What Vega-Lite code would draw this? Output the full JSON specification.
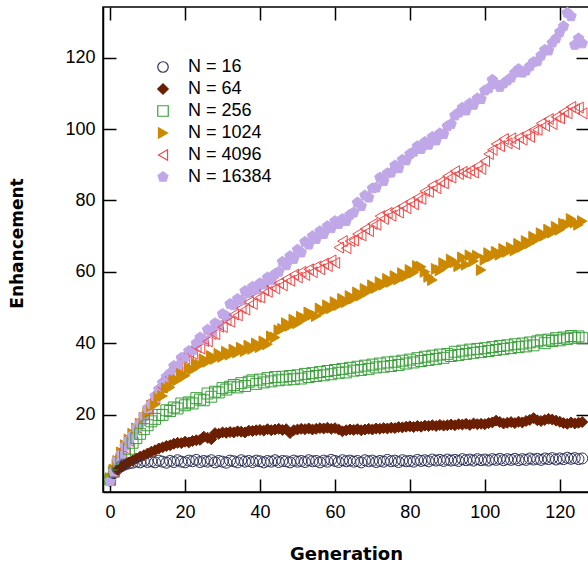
{
  "$schema": "https://vega.github.io/schema/vega-lite/v6.json",
  "width": 486,
  "height": 485,
  "autosize": "none",
  "padding": {"left": 103, "top": 7, "right": 0, "bottom": 71},
  "background": "white",
  "config": {
    "view": {"stroke": "black", "strokeWidth": 1.5},
    "font": "Liberation Sans",
    "axis": {"grid": false, "domainColor": "black", "domainWidth": 1.5, "tickColor": "black", "tickWidth": 1.5, "tickSize": -13, "labelColor": "black", "labelFontSize": 18, "labelFont": "Liberation Sans"}
  },
  "data": {"values": [
    {"g":0,"N16":1.5,"N64":2.5,"N256":1.8,"N1024":2.2,"N4096":1.6,"N16384":1.4},
    {"g":1,"N16":3.6,"N64":3.6,"N256":4.0,"N1024":4.6,"N4096":4.2,"N16384":4.0},
    {"g":2,"N16":4.8,"N64":4.6,"N256":6.0,"N1024":7.0,"N4096":6.6,"N16384":7.2},
    {"g":3,"N16":5.5,"N64":5.3,"N256":7.6,"N1024":9.4,"N4096":8.6,"N16384":9.0},
    {"g":4,"N16":6.0,"N64":6.0,"N256":9.0,"N1024":11.4,"N4096":10.5,"N16384":11.2},
    {"g":5,"N16":6.3,"N64":6.6,"N256":10.4,"N1024":13.0,"N4096":12.6,"N16384":12.8},
    {"g":6,"N16":6.5,"N64":7.1,"N256":12.1,"N1024":14.6,"N4096":14.4,"N16384":14.2},
    {"g":7,"N16":6.8,"N64":7.7,"N256":13.4,"N1024":16.1,"N4096":16.5,"N16384":16.3},
    {"g":8,"N16":6.6,"N64":8.2,"N256":14.6,"N1024":17.4,"N4096":18.4,"N16384":17.6},
    {"g":9,"N16":7.0,"N64":8.6,"N256":15.9,"N1024":19.1,"N4096":20.1,"N16384":19.6},
    {"g":10,"N16":6.7,"N64":9.1,"N256":17.0,"N1024":20.4,"N4096":21.6,"N16384":21.8},
    {"g":11,"N16":6.9,"N64":9.6,"N256":18.1,"N1024":22.4,"N4096":23.8,"N16384":23.0},
    {"g":12,"N16":6.6,"N64":10.0,"N256":18.8,"N1024":22.8,"N4096":24.5,"N16384":25.2},
    {"g":13,"N16":7.1,"N64":10.5,"N256":19.9,"N1024":24.9,"N4096":27.1,"N16384":27.1},
    {"g":14,"N16":6.8,"N64":10.8,"N256":19.9,"N1024":25.2,"N4096":27.6,"N16384":28.9},
    {"g":15,"N16":6.5,"N64":11.2,"N256":21.2,"N1024":27.3,"N4096":30.1,"N16384":30.6},
    {"g":16,"N16":7.0,"N64":11.4,"N256":21.0,"N1024":27.6,"N4096":30.6,"N16384":31.6},
    {"g":17,"N16":6.7,"N64":11.8,"N256":22.0,"N1024":29.6,"N4096":33.2,"N16384":33.6},
    {"g":18,"N16":7.2,"N64":12.1,"N256":21.7,"N1024":29.6,"N4096":33.4,"N16384":33.6},
    {"g":19,"N16":6.8,"N64":12.0,"N256":23.1,"N1024":31.4,"N4096":35.8,"N16384":35.9},
    {"g":20,"N16":6.6,"N64":12.4,"N256":22.6,"N1024":30.9,"N4096":35.6,"N16384":36.2},
    {"g":21,"N16":7.1,"N64":12.2,"N256":23.4,"N1024":32.9,"N4096":37.2,"N16384":37.8},
    {"g":22,"N16":6.9,"N64":12.6,"N256":23.1,"N1024":32.6,"N4096":37.0,"N16384":38.0},
    {"g":23,"N16":7.3,"N64":12.8,"N256":24.6,"N1024":34.2,"N4096":38.9,"N16384":40.0},
    {"g":24,"N16":6.7,"N64":12.9,"N256":24.2,"N1024":33.9,"N4096":38.5,"N16384":41.6},
    {"g":25,"N16":7.0,"N64":13.8,"N256":24.0,"N1024":35.5,"N4096":40.6,"N16384":41.0},
    {"g":26,"N16":6.8,"N64":13.5,"N256":25.9,"N1024":34.8,"N4096":40.5,"N16384":43.8},
    {"g":27,"N16":7.2,"N64":13.1,"N256":25.0,"N1024":36.4,"N4096":42.6,"N16384":43.2},
    {"g":28,"N16":6.6,"N64":14.8,"N256":26.4,"N1024":35.6,"N4096":42.5,"N16384":45.6},
    {"g":29,"N16":7.0,"N64":14.6,"N256":26.2,"N1024":37.0,"N4096":44.6,"N16384":45.0},
    {"g":30,"N16":6.8,"N64":15.0,"N256":27.4,"N1024":36.2,"N4096":44.5,"N16384":48.2},
    {"g":31,"N16":6.5,"N64":14.9,"N256":27.0,"N1024":37.6,"N4096":46.4,"N16384":47.6},
    {"g":32,"N16":7.1,"N64":15.1,"N256":27.8,"N1024":36.8,"N4096":46.0,"N16384":51.0},
    {"g":33,"N16":6.9,"N64":15.0,"N256":28.3,"N1024":38.2,"N4096":48.0,"N16384":50.6},
    {"g":34,"N16":6.6,"N64":15.3,"N256":27.6,"N1024":37.4,"N4096":47.8,"N16384":52.4},
    {"g":35,"N16":7.2,"N64":15.2,"N256":28.8,"N1024":38.7,"N4096":49.8,"N16384":52.0},
    {"g":36,"N16":6.8,"N64":15.0,"N256":28.0,"N1024":37.8,"N4096":49.4,"N16384":54.6},
    {"g":37,"N16":7.0,"N64":15.5,"N256":29.2,"N1024":39.3,"N4096":51.5,"N16384":54.0},
    {"g":38,"N16":6.7,"N64":15.4,"N256":29.6,"N1024":38.4,"N4096":51.0,"N16384":55.8},
    {"g":39,"N16":7.1,"N64":15.6,"N256":28.6,"N1024":39.9,"N4096":53.0,"N16384":55.0},
    {"g":40,"N16":6.9,"N64":15.7,"N256":29.8,"N1024":38.9,"N4096":52.8,"N16384":56.8},
    {"g":41,"N16":6.6,"N64":15.5,"N256":29.0,"N1024":40.5,"N4096":54.8,"N16384":56.4},
    {"g":42,"N16":7.0,"N64":15.9,"N256":30.2,"N1024":39.7,"N4096":54.4,"N16384":58.4},
    {"g":43,"N16":6.8,"N64":15.6,"N256":29.3,"N1024":41.9,"N4096":56.0,"N16384":57.6},
    {"g":44,"N16":7.2,"N64":15.8,"N256":30.5,"N1024":41.6,"N4096":55.3,"N16384":59.4},
    {"g":45,"N16":6.7,"N64":16.0,"N256":29.6,"N1024":43.6,"N4096":56.8,"N16384":60.0},
    {"g":46,"N16":7.0,"N64":15.7,"N256":30.6,"N1024":44.0,"N4096":56.2,"N16384":62.8},
    {"g":47,"N16":6.9,"N64":15.9,"N256":29.8,"N1024":45.6,"N4096":58.0,"N16384":61.8},
    {"g":48,"N16":6.6,"N64":14.8,"N256":30.8,"N1024":44.9,"N4096":57.5,"N16384":64.4},
    {"g":49,"N16":7.1,"N64":15.6,"N256":29.9,"N1024":46.6,"N4096":59.2,"N16384":63.6},
    {"g":50,"N16":6.8,"N64":15.8,"N256":31.0,"N1024":45.6,"N4096":58.4,"N16384":66.2},
    {"g":51,"N16":7.0,"N64":16.0,"N256":30.1,"N1024":47.4,"N4096":60.0,"N16384":65.4},
    {"g":52,"N16":6.7,"N64":15.9,"N256":31.4,"N1024":46.9,"N4096":59.1,"N16384":68.4},
    {"g":53,"N16":7.2,"N64":16.1,"N256":30.5,"N1024":48.6,"N4096":60.7,"N16384":67.6},
    {"g":54,"N16":6.9,"N64":15.8,"N256":31.6,"N1024":48.0,"N4096":59.9,"N16384":70.0},
    {"g":55,"N16":7.0,"N64":16.0,"N256":30.8,"N1024":47.6,"N4096":61.5,"N16384":69.2},
    {"g":56,"N16":6.6,"N64":16.2,"N256":31.9,"N1024":49.7,"N4096":60.7,"N16384":71.4},
    {"g":57,"N16":7.1,"N64":16.1,"N256":31.0,"N1024":49.0,"N4096":62.3,"N16384":70.6},
    {"g":58,"N16":6.8,"N64":16.3,"N256":32.2,"N1024":50.6,"N4096":61.6,"N16384":72.8},
    {"g":59,"N16":7.3,"N64":16.0,"N256":31.3,"N1024":49.8,"N4096":63.2,"N16384":72.2},
    {"g":60,"N16":7.0,"N64":16.2,"N256":32.5,"N1024":51.5,"N4096":62.5,"N16384":74.2},
    {"g":61,"N16":6.7,"N64":15.8,"N256":31.7,"N1024":50.7,"N4096":66.8,"N16384":73.4},
    {"g":62,"N16":7.2,"N64":15.3,"N256":32.8,"N1024":52.4,"N4096":68.6,"N16384":74.8},
    {"g":63,"N16":6.9,"N64":15.6,"N256":31.8,"N1024":51.5,"N4096":66.6,"N16384":74.2},
    {"g":64,"N16":7.1,"N64":15.8,"N256":33.1,"N1024":53.2,"N4096":68.6,"N16384":76.0},
    {"g":65,"N16":6.8,"N64":15.7,"N256":32.3,"N1024":52.5,"N4096":68.8,"N16384":76.6},
    {"g":66,"N16":7.0,"N64":15.9,"N256":33.4,"N1024":54.2,"N4096":70.6,"N16384":79.4},
    {"g":67,"N16":6.6,"N64":15.6,"N256":32.5,"N1024":53.4,"N4096":70.2,"N16384":78.4},
    {"g":68,"N16":7.2,"N64":15.8,"N256":33.7,"N1024":55.2,"N4096":72.0,"N16384":81.4},
    {"g":69,"N16":6.9,"N64":16.0,"N256":32.8,"N1024":54.6,"N4096":71.4,"N16384":80.8},
    {"g":70,"N16":7.1,"N64":15.8,"N256":34.0,"N1024":56.2,"N4096":73.4,"N16384":83.4},
    {"g":71,"N16":6.7,"N64":16.1,"N256":33.2,"N1024":55.5,"N4096":73.2,"N16384":83.6},
    {"g":72,"N16":7.0,"N64":16.0,"N256":34.3,"N1024":57.1,"N4096":75.6,"N16384":86.4},
    {"g":73,"N16":6.8,"N64":16.2,"N256":33.4,"N1024":56.4,"N4096":74.8,"N16384":85.4},
    {"g":74,"N16":7.3,"N64":16.1,"N256":34.6,"N1024":58.0,"N4096":76.5,"N16384":87.6},
    {"g":75,"N16":6.9,"N64":16.3,"N256":33.6,"N1024":57.2,"N4096":75.7,"N16384":87.8},
    {"g":76,"N16":7.1,"N64":16.2,"N256":34.8,"N1024":58.8,"N4096":77.2,"N16384":89.8},
    {"g":77,"N16":6.7,"N64":16.5,"N256":33.9,"N1024":57.9,"N4096":76.6,"N16384":89.0},
    {"g":78,"N16":7.2,"N64":16.4,"N256":35.1,"N1024":59.6,"N4096":78.4,"N16384":91.4},
    {"g":79,"N16":6.9,"N64":16.6,"N256":34.3,"N1024":58.8,"N4096":77.8,"N16384":91.2},
    {"g":80,"N16":7.0,"N64":16.7,"N256":35.4,"N1024":60.5,"N4096":79.6,"N16384":93.0},
    {"g":81,"N16":6.8,"N64":16.5,"N256":34.6,"N1024":59.8,"N4096":78.9,"N16384":93.6},
    {"g":82,"N16":7.3,"N64":16.8,"N256":35.8,"N1024":61.6,"N4096":80.8,"N16384":95.2},
    {"g":83,"N16":7.0,"N64":16.6,"N256":35.0,"N1024":61.4,"N4096":80.4,"N16384":94.4},
    {"g":84,"N16":7.2,"N64":16.9,"N256":36.2,"N1024":60.0,"N4096":82.6,"N16384":96.4},
    {"g":85,"N16":6.9,"N64":16.8,"N256":35.3,"N1024":58.6,"N4096":82.4,"N16384":95.6},
    {"g":86,"N16":7.4,"N64":17.0,"N256":36.5,"N1024":57.7,"N4096":84.2,"N16384":97.8},
    {"g":87,"N16":7.1,"N64":16.8,"N256":35.6,"N1024":60.8,"N4096":83.4,"N16384":96.8},
    {"g":88,"N16":7.3,"N64":17.1,"N256":36.8,"N1024":60.4,"N4096":85.2,"N16384":98.8},
    {"g":89,"N16":7.0,"N64":16.9,"N256":35.9,"N1024":62.4,"N4096":84.8,"N16384":98.6},
    {"g":90,"N16":7.4,"N64":17.0,"N256":37.0,"N1024":61.8,"N4096":86.8,"N16384":100.8},
    {"g":91,"N16":7.1,"N64":17.2,"N256":36.4,"N1024":63.4,"N4096":86.4,"N16384":101.4},
    {"g":92,"N16":7.3,"N64":17.0,"N256":37.6,"N1024":62.7,"N4096":88.2,"N16384":103.8},
    {"g":93,"N16":7.0,"N64":17.3,"N256":36.7,"N1024":61.6,"N4096":87.4,"N16384":104.6},
    {"g":94,"N16":7.5,"N64":17.2,"N256":37.9,"N1024":64.0,"N4096":88.0,"N16384":106.0},
    {"g":95,"N16":7.2,"N64":17.4,"N256":37.0,"N1024":62.0,"N4096":87.6,"N16384":105.2},
    {"g":96,"N16":7.4,"N64":17.1,"N256":38.2,"N1024":64.6,"N4096":88.4,"N16384":107.2},
    {"g":97,"N16":7.1,"N64":17.5,"N256":37.3,"N1024":63.0,"N4096":87.8,"N16384":106.8},
    {"g":98,"N16":7.5,"N64":17.3,"N256":38.4,"N1024":64.5,"N4096":89.6,"N16384":108.6},
    {"g":99,"N16":7.2,"N64":17.4,"N256":37.5,"N1024":60.5,"N4096":88.8,"N16384":108.4},
    {"g":100,"N16":7.4,"N64":17.3,"N256":38.6,"N1024":63.4,"N4096":91.0,"N16384":110.8},
    {"g":101,"N16":7.1,"N64":17.6,"N256":37.8,"N1024":65.2,"N4096":93.0,"N16384":111.4},
    {"g":102,"N16":7.5,"N64":17.8,"N256":38.9,"N1024":64.4,"N4096":94.2,"N16384":113.8},
    {"g":103,"N16":7.3,"N64":18.3,"N256":38.1,"N1024":65.6,"N4096":95.8,"N16384":112.6},
    {"g":104,"N16":7.6,"N64":17.9,"N256":39.2,"N1024":64.8,"N4096":95.2,"N16384":111.8},
    {"g":105,"N16":7.2,"N64":17.5,"N256":38.4,"N1024":66.4,"N4096":97.2,"N16384":112.8},
    {"g":106,"N16":7.5,"N64":17.7,"N256":39.4,"N1024":65.6,"N4096":96.0,"N16384":113.6},
    {"g":107,"N16":7.3,"N64":17.9,"N256":38.6,"N1024":66.8,"N4096":97.4,"N16384":114.4},
    {"g":108,"N16":7.6,"N64":17.6,"N256":39.7,"N1024":66.0,"N4096":95.8,"N16384":115.8},
    {"g":109,"N16":7.2,"N64":18.0,"N256":38.9,"N1024":67.8,"N4096":97.6,"N16384":116.8},
    {"g":110,"N16":7.5,"N64":17.8,"N256":39.9,"N1024":67.0,"N4096":97.0,"N16384":115.8},
    {"g":111,"N16":7.3,"N64":18.2,"N256":39.1,"N1024":68.6,"N4096":98.6,"N16384":116.4},
    {"g":112,"N16":7.7,"N64":18.5,"N256":40.2,"N1024":68.0,"N4096":97.8,"N16384":117.6},
    {"g":113,"N16":7.4,"N64":19.0,"N256":39.4,"N1024":69.8,"N4096":99.8,"N16384":118.8},
    {"g":114,"N16":7.6,"N64":18.4,"N256":40.5,"N1024":69.2,"N4096":99.8,"N16384":119.0},
    {"g":115,"N16":7.3,"N64":18.2,"N256":40.8,"N1024":70.8,"N4096":101.6,"N16384":120.6},
    {"g":116,"N16":7.7,"N64":18.5,"N256":40.0,"N1024":70.2,"N4096":100.9,"N16384":122.2},
    {"g":117,"N16":7.5,"N64":18.8,"N256":41.0,"N1024":71.8,"N4096":102.8,"N16384":122.0},
    {"g":118,"N16":7.8,"N64":18.6,"N256":40.6,"N1024":71.0,"N4096":101.4,"N16384":124.2},
    {"g":119,"N16":7.4,"N64":18.3,"N256":41.4,"N1024":72.6,"N4096":103.4,"N16384":125.4},
    {"g":120,"N16":7.7,"N64":18.0,"N256":40.8,"N1024":71.8,"N4096":103.0,"N16384":127.2},
    {"g":121,"N16":7.5,"N64":17.6,"N256":41.6,"N1024":73.5,"N4096":104.8,"N16384":128.8},
    {"g":122,"N16":7.9,"N64":17.4,"N256":41.2,"N1024":73.2,"N4096":104.4,"N16384":132.6},
    {"g":123,"N16":7.6,"N64":17.8,"N256":42.0,"N1024":74.8,"N4096":106.2,"N16384":131.6},
    {"g":124,"N16":7.8,"N64":17.5,"N256":41.5,"N1024":73.8,"N4096":105.6,"N16384":123.6},
    {"g":125,"N16":7.5,"N64":17.7,"N256":41.9,"N1024":73.2,"N4096":106.0,"N16384":125.4},
    {"g":126,"N16":7.7,"N64":17.9,"N256":41.4,"N1024":74.2,"N4096":104.4,"N16384":124.0}
  ]},
  "transform": [
    {"fold": ["N16", "N64", "N256", "N1024", "N4096", "N16384"], "as": ["series", "e"]}
  ],
  "layer": [
    {
      "mark": {"type": "point", "opacity": 1, "strokeWidth": 1, "size": 120},
      "encoding": {
        "x": {"field": "g", "type": "quantitative",
              "scale": {"domain": [-1.9, 127.8], "nice": false, "zero": false},
              "axis": {"orient": "bottom", "values": [0, 20, 40, 60, 80, 100, 120], "labelPadding": 24, "title": "Generation", "titleFont": "DejaVu Sans", "titleFontWeight": "bold", "titleFontSize": 18, "titleColor": "black", "titleX": 243, "titleY": 67, "titleBaseline": "alphabetic"}},
        "y": {"field": "e", "type": "quantitative",
              "scale": {"domain": [-1.7, 134.2], "nice": false, "zero": false},
              "axis": {"orient": "left", "values": [20, 40, 60, 80, 100, 120], "labelPadding": 21, "title": "Enhancement", "titleFont": "DejaVu Sans", "titleFontWeight": "bold", "titleFontSize": 17, "titleColor": "black", "titleX": -81, "titleY": 236, "titleAngle": -90, "titleBaseline": "alphabetic"}},
        "shape": {"field": "series", "type": "nominal",
                  "scale": {"domain": ["N16", "N64", "N256", "N1024", "N4096", "N16384"],
                            "range": ["circle", "diamond", "square", "triangle-right", "triangle-left", "M0,-1L0.951,-0.309L0.588,0.809L-0.588,0.809L-0.951,-0.309Z"]},
                  "legend": {"orient": "none", "legendX": 51, "legendY": 51, "title": null, "labelFontSize": 18, "labelFont": "Liberation Sans", "labelColor": "black", "symbolSize": 110, "symbolStrokeWidth": 1.2, "rowPadding": 4, "labelOffset": 16, "padding": 0, "labelExpr": "'N = ' + slice(datum.label, 1)"}},
        "fill": {"field": "series", "type": "nominal",
                 "scale": {"domain": ["N16", "N64", "N256", "N1024", "N4096", "N16384"],
                           "range": ["transparent", "#6b1e00", "transparent", "#cc8800", "transparent", "#c0a8e8"]}},
        "stroke": {"field": "series", "type": "nominal",
                   "scale": {"domain": ["N16", "N64", "N256", "N1024", "N4096", "N16384"],
                             "range": ["#2e3258", "#6b1e00", "#3ca03c", "#cc8800", "#f04848", "#c0a8e8"]}}
      }
    },
    {
      "mark": {"type": "point", "opacity": 0},
      "encoding": {
        "x": {"field": "g", "type": "quantitative",
              "scale": {"domain": [-1.9, 127.8], "nice": false, "zero": false},
              "axis": {"orient": "top", "values": [0, 20, 40, 60, 80, 100, 120], "labels": false, "title": null, "domain": false}},
        "y": {"field": "e", "type": "quantitative",
              "scale": {"domain": [-1.7, 134.2], "nice": false, "zero": false},
              "axis": {"orient": "right", "values": [20, 40, 60, 80, 100, 120], "labels": false, "title": null, "domain": false}}
      }
    }
  ],
  "resolve": {"axis": {"x": "independent", "y": "independent"}}
}
